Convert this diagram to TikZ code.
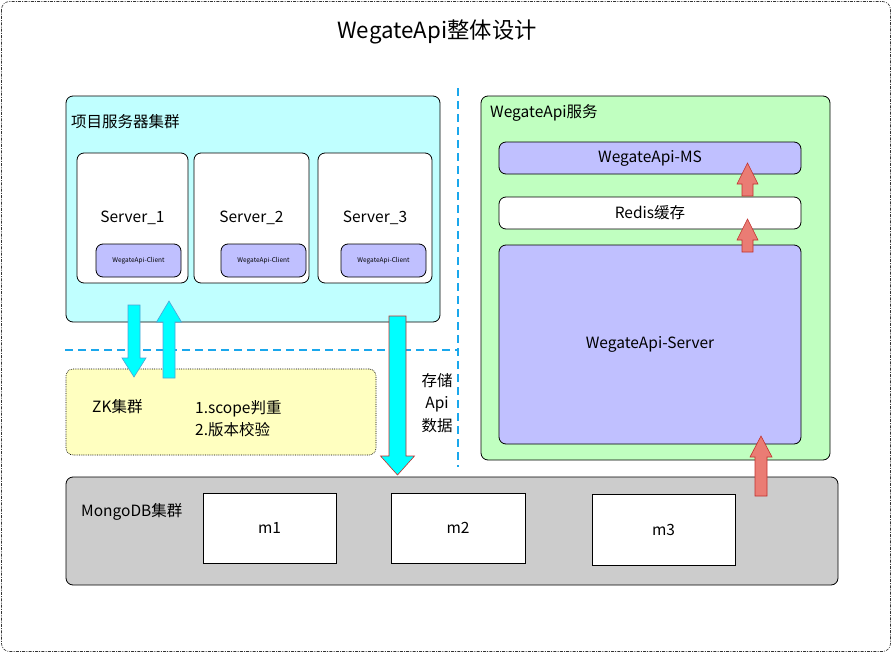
\documentclass[tikz,border=0pt]{standalone}
\usepackage{fontspec}
\setmainfont{Noto Sans CJK SC}
\usetikzlibrary{positioning}

\definecolor{cyanbg}{HTML}{C0FFFF}
\definecolor{greenbg}{HTML}{C0FFC0}
\definecolor{lilac}{HTML}{C0C0FF}
\definecolor{yellowbg}{HTML}{FFFFC0}
\definecolor{graybg}{HTML}{CCCCCC}
\definecolor{sepblue}{HTML}{1AA7EC}
\definecolor{arrcyan}{HTML}{00FFFF}
\definecolor{arrcyanline}{HTML}{4FA3D6}
\definecolor{arrred}{HTML}{EA7C74}
\definecolor{arrredline}{HTML}{C0302E}

\tikzset{
  box/.style={draw, line width=0.8pt, rounded corners=7pt, inner sep=0pt},
  sqbox/.style={draw, line width=0.8pt, inner sep=0pt, fill=white},
  lbl/.style={font=\fontsize{15.5}{18}\selectfont, inner sep=0pt},
  small/.style={font=\fontsize{6.5}{8}\selectfont},
  sepline/.style={sepblue, line width=2pt, dash pattern=on 8pt off 5pt},
  cyanarrow/.style={fill=arrcyan, draw=arrcyanline, line width=0.6pt},
  storearrow/.style={fill=arrcyan, draw=arrredline, line width=0.6pt},
  redarrow/.style={fill=arrred, draw=arrredline, line width=0.6pt},
}

% #1 style, #2 x, #3 start, #4 head base, #5 tip, #6 shaft half width, #7 head half width
\newcommand\blockarrow[7]{%
  \draw[#1] (#2-#6,#3) -- (#2-#6,#4) -- (#2-#7,#4) -- (#2,#5)
    -- (#2+#7,#4) -- (#2+#6,#4) -- (#2+#6,#3) -- cycle;}

\begin{document}
\begin{tikzpicture}[x=1pt, y=-1pt]
  \useasboundingbox (0,0) rectangle (892,653);
  \draw[gray!40!black, line width=0.6pt, rounded corners=8pt,
    dash pattern=on 3pt off 1.2pt on 1pt off 1.2pt] (1.5,1.5) rectangle (890.5,651.5);

  \node[font=\fontsize{22.3}{26}\selectfont] (title) at (437,32) {WegateApi整体设计};

  \draw[sepline] (458,88) -- (458,467);
  \draw[sepline] (65,350) -- (458,350);

  \node[box, fill=cyanbg, minimum width=374pt, minimum height=226pt] (proj) at (253,209) {};
  \node[lbl, anchor=west] (projlbl) at (71,122) {项目服务器集群};
  \node[box, fill=white, minimum width=111pt, minimum height=130pt, lbl] (s1) at (132.5,218) {Server\_1};
  \node[box, fill=white, minimum width=115pt, minimum height=130pt, lbl] (s2) at (251.5,218) {Server\_2};
  \node[box, fill=white, minimum width=114pt, minimum height=130pt, lbl] (s3) at (375,218) {Server\_3};
  \node[box, fill=lilac, minimum width=85pt, minimum height=33pt, small] (c1) at (138.5,260.5) {WegateApi-Client};
  \node[box, fill=lilac, minimum width=85pt, minimum height=33pt, small] (c2) at (263.5,260.5) {WegateApi-Client};
  \node[box, fill=lilac, minimum width=85pt, minimum height=33pt, small] (c3) at (383.5,260.5) {WegateApi-Client};

  \node[box, fill=yellowbg, densely dotted, line width=0.6pt, minimum width=310pt, minimum height=86pt] (zk) at (221,412) {};
  \node[lbl, anchor=west] (zklbl) at (92,407) {ZK集群};
  \node[lbl, anchor=west, align=left, font=\fontsize{15.5}{22}\selectfont] (zktxt) at (195,419) {1.scope判重\\2.版本校验};

  \node[lbl, align=center, font=\fontsize{15.5}{22.5}\selectfont] (store) at (437,403) {存储\\Api\\数据};

  \node[box, fill=greenbg, minimum width=349pt, minimum height=364pt] (svc) at (655.5,278) {};
  \node[lbl, anchor=west] (svclbl) at (490,113) {WegateApi服务};
  \node[box, fill=lilac, minimum width=302pt, minimum height=32pt, lbl] (ms) at (650,158) {WegateApi-MS};
  \node[box, fill=white, minimum width=302pt, minimum height=32pt, lbl] (redis) at (650,213) {Redis缓存};
  \node[box, fill=lilac, minimum width=302pt, minimum height=199pt, lbl] (wserver) at (650,344.5) {WegateApi-Server};

  \node[box, fill=graybg, minimum width=772pt, minimum height=108pt] (mongo) at (452,531) {};
  \node[lbl, anchor=west] (mongolbl) at (81,512) {MongoDB集群};
  \node[sqbox, minimum width=133pt, minimum height=70pt, lbl] (m1) at (269.5,528) {m1};
  \node[sqbox, minimum width=134pt, minimum height=70pt, lbl] (m2) at (458,528) {m2};
  \node[sqbox, minimum width=143pt, minimum height=71pt, lbl] (m3) at (663.5,529.5) {m3};

  \blockarrow{cyanarrow}{134}{305}{358}{377}{6}{12}
  \blockarrow{cyanarrow}{169}{378}{322}{301}{6}{12.5}
  \blockarrow{storearrow}{397.5}{316}{456}{475}{8.5}{17}
  \blockarrow{redarrow}{747.5}{196}{184}{163}{5.5}{10.5}
  \blockarrow{redarrow}{747.5}{252}{240}{219}{5.5}{10.5}
  \blockarrow{redarrow}{761}{496}{457}{436}{6}{11}
\end{tikzpicture}
\end{document}
